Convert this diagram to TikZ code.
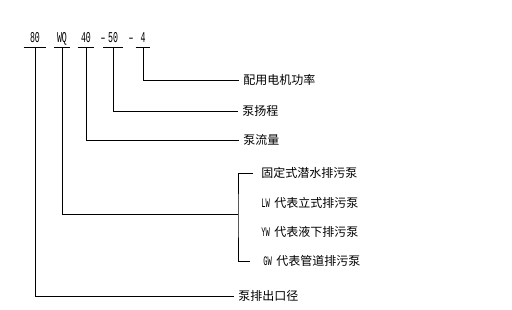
\documentclass[tikz,border=0pt]{standalone}
\usepackage{fontspec}
\newfontfamily\cjk{Noto Sans CJK SC}
\newfontfamily\codefont[FakeStretch=0.55]{Liberation Mono}
\newcommand{\lat}[1]{{\codefont\fontsize{13}{13}\selectfont #1}}
\usetikzlibrary{calc}

\begin{document}
\begin{tikzpicture}[x=1pt, y=-1pt, line width=0.85pt,
		code/.style={anchor=south, inner xsep=0pt, inner ysep=4pt, text height=10pt, text depth=0pt,
			font=\codefont\fontsize{15}{15}\selectfont},
		item/.style={anchor=west, inner xsep=4pt, inner ysep=0pt, font=\cjk\fontsize{12}{12}\selectfont}]
	\useasboundingbox (0,0) rectangle (512,309);
	\node[code, minimum width=22] (n80) at (35,47) {80};
	\node[code, minimum width=15] (nwq) at (62,47) {WQ};
	\node[code, minimum width=16] (n40) at (86,47) {40};
	\node[code] (d1) at (103,47) {\textendash};
	\node[code, minimum width=19] (n50) at (113,47) {50};
	\node[code] (d2) at (131,47) {\textendash};
	\node[code, minimum width=14] (n4) at (143,47) {4};
	\foreach \n in {n80,nwq,n40,n50,n4}
		\draw (\n.south west) -- (\n.south east);

	\node[item] (t1) at (239,80) {配用电机功率};
	\node[item] (t2) at (238,111) {泵扬程};
	\node[item] (t3) at (239,140) {泵流量};
	\node[item] (g1) at (257,173) {固定式潜水排污泵};
	\node[item] (g2) at (257,203) {\lat{LW }代表立式排污泵};
	\node[item] (g3) at (257,232) {\lat{YW }代表液下排污泵};
	\node[item] (g4) at (259,261) {\lat{GW }代表管道排污泵};
	\node[item] (t8) at (234,296) {泵排出口径};
	\coordinate (br) at (238,214);

	\draw (n4.south) |- (t1.west);
	\draw (n50.south) |- (t2.west);
	\draw (n40.south) |- (t3.west);
	\draw (nwq.south) |- (br);
	\draw ([xshift=-4pt]g1.west) -| (br) |- ([xshift=-9pt]g4.west);
	\draw (n80.south) |- (t8.west);
\end{tikzpicture}
\end{document}
